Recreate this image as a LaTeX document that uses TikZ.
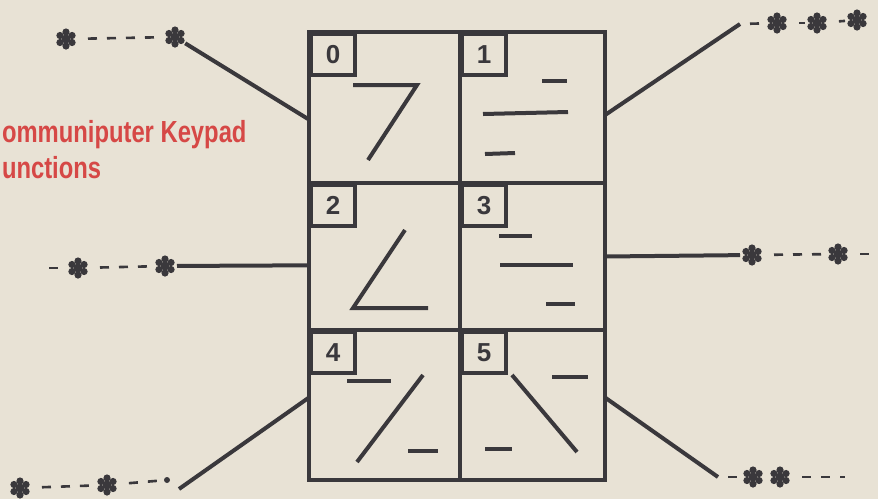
\documentclass[tikz,border=0pt]{standalone}
\usepackage{fontspec}
\setsansfont{Liberation Sans}
\newfontfamily\titlefont[FakeStretch=0.78]{Liberation Sans}
\usetikzlibrary{calc}
\definecolor{ink}{RGB}{58,56,60}
\definecolor{paper}{RGB}{232,226,213}
\definecolor{titlered}{RGB}{214,72,70}
\begin{document}
\begin{tikzpicture}[x=1pt, y=-1pt, line width=4pt,
  key/.style={draw=ink, inner sep=0pt, outer sep=0pt},
  keynum/.style={draw=ink, anchor=north west, inner sep=0pt, minimum width=44pt,
    minimum height=41pt, text=ink, font=\sffamily\bfseries\fontsize{26}{26}\selectfont},
  flower/.style={circle, inner sep=0pt, outer sep=0pt, minimum size=24pt,
    path picture={
      \fill[ink] (path picture bounding box.center) circle (4pt);
      \foreach \a in {30,90,...,330} {
        \draw[ink, line width=3.4pt] (path picture bounding box.center) -- ++(\a:6pt);
        \fill[ink] (path picture bounding box.center) ++(\a:7pt) circle (3.6pt);
      }}},
  dashes/.style={draw=ink, line width=2.6pt, dash pattern=on 9pt off 10pt, dash phase=9pt},
  wire/.style={draw=ink, line width=4pt},
  title/.style={anchor=base west, inner sep=0pt, text=titlered,
    font=\titlefont\bfseries\fontsize{30.5}{30.5}\selectfont}]
  \useasboundingbox (0,0) rectangle (878,499);
  \fill[paper] (0,0) rectangle (878,499);
  % keypad
  \node[key, minimum width=151pt, minimum height=151pt] (key0) at (384.5,107.5) {};
  \node[key, minimum width=145pt, minimum height=151pt] (key1) at (532.5,107.5) {};
  \node[key, minimum width=151pt, minimum height=147pt] (key2) at (384.5,256.5) {};
  \node[key, minimum width=145pt, minimum height=147pt] (key3) at (532.5,256.5) {};
  \node[key, minimum width=151pt, minimum height=150pt] (key4) at (384.5,405) {};
  \node[key, minimum width=145pt, minimum height=150pt] (key5) at (532.5,405) {};
  \node[keynum] (num0) at (key0.north west) {0};
  \node[keynum] (num1) at (key1.north west) {1};
  \node[keynum] (num2) at (key2.north west) {2};
  \node[keynum] (num3) at (key3.north west) {3};
  \node[keynum] (num4) at (key4.north west) {4};
  \node[keynum] (num5) at (key5.north west) {5};
  % strokes
  \draw[wire] (353,85) -- (417,85) -- (368,160);
  \draw[wire] (542,81) -- (567,81);
  \draw[wire] (483,114) -- (568,112);
  \draw[wire] (485,154) -- (515,153);
  \draw[wire] (405,230) -- (353,308) -- (428,308);
  \draw[wire] (499,236) -- (532,236);
  \draw[wire] (500,265) -- (573,265);
  \draw[wire] (546,304) -- (575,304);
  \draw[wire] (347,381) -- (391,381);
  \draw[wire] (423,375) -- (357,462);
  \draw[wire] (408,451) -- (438,451);
  \draw[wire] (512,375) -- (577,452);
  \draw[wire] (552,377) -- (588,377);
  \draw[wire] (485,449) -- (512,449);
  % title
  \node[title] (title) at (0,142) {ommuniputer Keypad};
  \node[title] (title2) at (0,178) {unctions};
  % left side
  \node[flower] (lt1) at (66,39) {};
  \node[flower] (lt2) at (175,37) {};
  \draw[dashes] (lt1) -- (lt2);
  \draw[wire] (lt2) -- ($(key0.north west)!0.58!(key0.south west)$);
  \coordinate (lm0) at (39,268);
  \node[flower] (lm1) at (78,268) {};
  \node[flower] (lm2) at (165,266) {};
  \draw[dashes] (lm0) -- (lm1);
  \draw[dashes] (lm1) -- (lm2);
  \draw[wire] (lm2) -- ($(key2.north west)!0.56!(key2.south west)$);
  \node[flower] (lb1) at (20,488) {};
  \node[flower] (lb2) at (107,485) {};
  \node[circle, fill=ink, inner sep=0pt, minimum size=6pt] (lb3) at (167,480) {};
  \coordinate (lb4) at (179,489);
  \draw[dashes] (lb1) -- (lb2);
  \draw[dashes] (lb2) -- (lb3);
  \draw[wire] (lb4) -- ($(key4.north west)!0.45!(key4.south west)$);
  % right side
  \coordinate (rt0) at (740,24);
  \node[flower] (rt1) at (777,23) {};
  \node[flower] (rt2) at (817,23) {};
  \node[flower] (rt3) at (857,20) {};
  \draw[wire] ($(key1.north east)!0.55!(key1.south east)$) -- (rt0);
  \draw[dashes] (rt0) -- (rt1);
  \draw[dashes] (rt1) -- (rt2);
  \draw[dashes] (rt2) -- (rt3);
  \node[flower] (rm1) at (752,255) {};
  \node[flower] (rm2) at (838,254) {};
  \coordinate (rm3) at (878,254);
  \draw[wire] ($(key3.north east)!0.5!(key3.south east)$) -- (rm1);
  \draw[dashes] (rm1) -- (rm2);
  \draw[dashes] (rm2) -- (rm3);
  \coordinate (rb0) at (718,477);
  \node[flower] (rb1) at (753,477) {};
  \node[flower] (rb2) at (780,477) {};
  \coordinate (rb3) at (845,477);
  \draw[wire] ($(key5.north east)!0.45!(key5.south east)$) -- (rb0);
  \draw[dashes] (rb0) -- (rb1);
  \draw[dashes] (rb2) -- (rb3);
\end{tikzpicture}
\end{document}
